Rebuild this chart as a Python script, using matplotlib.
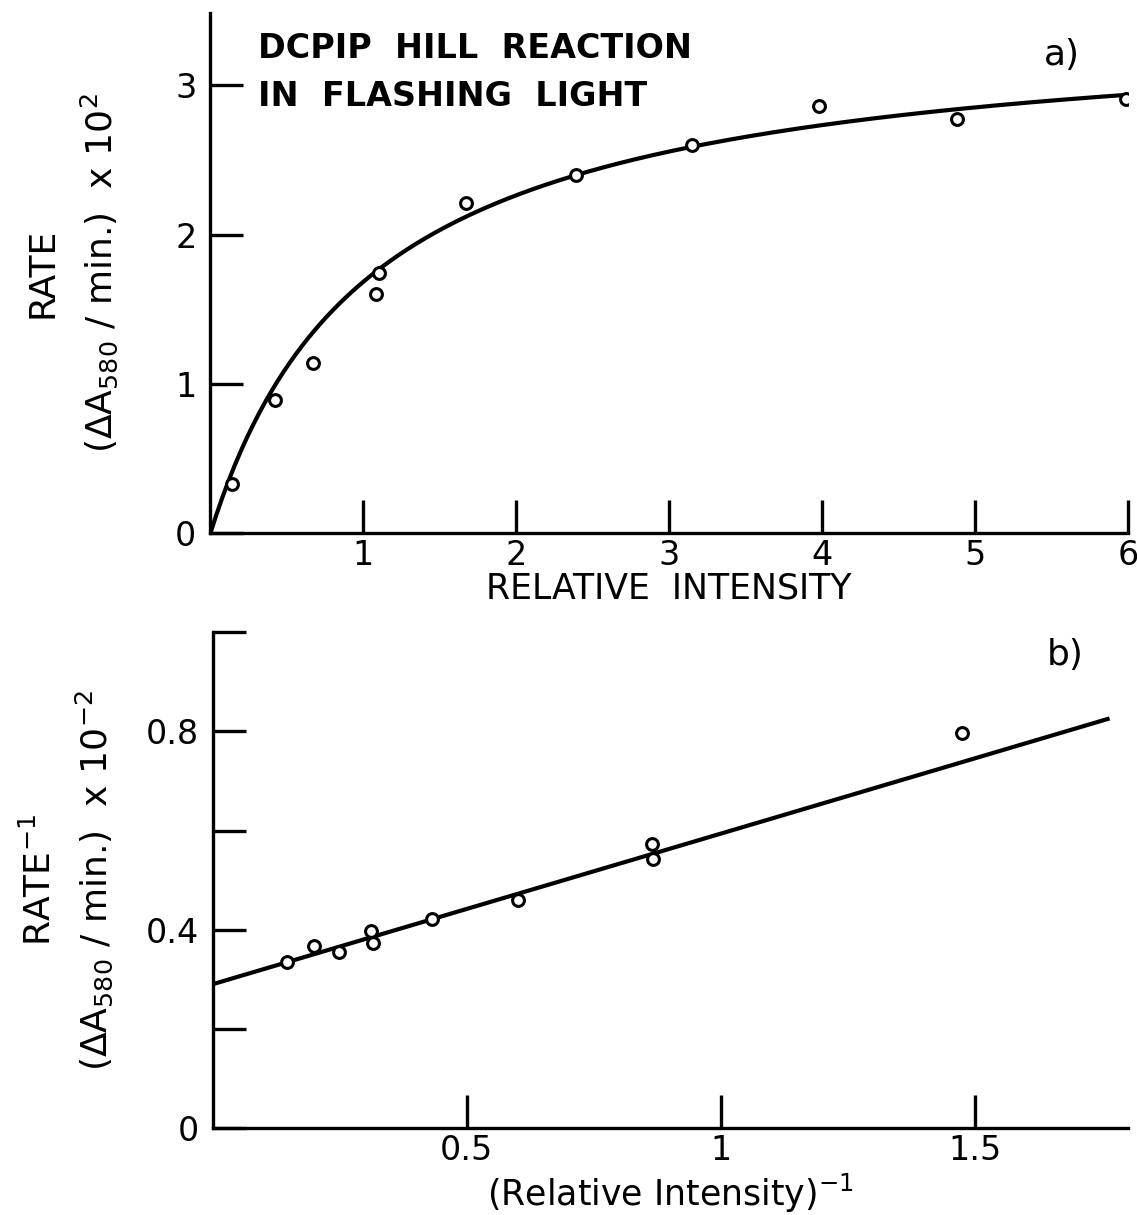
import matplotlib.pyplot as plt
import numpy as np

# panel a) rate vs relative intensity
intensity = [0.14, 0.42, 0.67, 1.08, 1.10, 1.67, 2.39, 3.15, 3.98, 4.88, 5.99]
rate = [0.33, 0.89, 1.14, 1.60, 1.74, 2.21, 2.40, 2.60, 2.86, 2.77, 2.91]

# panel b) double reciprocal
inv_intensity = [0.146, 0.199, 0.249, 0.312, 0.316, 0.432, 0.600, 0.864, 0.866, 1.473]
inv_rate = [0.334, 0.367, 0.355, 0.398, 0.374, 0.421, 0.459, 0.573, 0.542, 0.796]

# fitted line of panel b (intercept, slope) and its x extent
fit_intercept = 0.29
fit_slope = 0.304
fit_xmax = 1.76

plt.rcParams['font.family'] = ['DejaVu Sans']
plt.rcParams['mathtext.default'] = 'regular'

fig = plt.figure(figsize=(11.37, 12.15), dpi=100)

lw_spine = 2.4
tick_kw = dict(direction='in', length=24, width=2.4, labelsize=24, pad=4)

########## panel a ##########
ax1 = fig.add_axes([0.185, 0.561, 0.807, 0.428])
vmax = 1 / fit_intercept
km = fit_slope * vmax
xs = np.linspace(0, 6, 300)
ax1.plot(xs, vmax * xs / (km + xs), color='black', lw=3)
ax1.plot(intensity, rate, 'o', ms=8.5, mfc='white', mec='black', mew=2.2)

ax1.set_xlim(0, 6)
ax1.set_ylim(0, 3.48)
ax1.set_xticks([1, 2, 3, 4, 5, 6])
ax1.set_yticks([0, 1, 2, 3])
ax1.tick_params(**tick_kw)
ax1.tick_params(axis='y', pad=10)
for s in ['top', 'right']:
    ax1.spines[s].set_visible(False)
for s in ['left', 'bottom']:
    ax1.spines[s].set_linewidth(lw_spine)
ax1.set_xlabel('RELATIVE  INTENSITY', fontsize=25, labelpad=0)
ax1.set_ylabel('RATE\n(ΔA$_{580}$ / min.)  x 10$^2$', fontsize=26, labelpad=40,
               linespacing=1.55)
ax1.text(0.31, 3.085, 'DCPIP  HILL  REACTION\nIN  FLASHING  LIGHT', fontsize=24,
         weight='bold', va='center', linespacing=1.55)
ax1.text(5.45, 3.2, 'a)', fontsize=26, va='center')

########## panel b ##########
ax2 = fig.add_axes([0.187, 0.0716, 0.805, 0.408])
xl = np.array([0, fit_xmax])
ax2.plot(xl, fit_intercept + fit_slope * xl, color='black', lw=3)
ax2.plot(inv_intensity, inv_rate, 'o', ms=8.5, mfc='white', mec='black', mew=2.2)

ax2.set_xlim(0, 1.8)
ax2.set_ylim(0, 1.0)
ax2.set_xticks([0.5, 1, 1.5])
ax2.set_xticklabels(['0.5', '1', '1.5'])
ax2.set_yticks([0, 0.2, 0.4, 0.6, 0.8, 1.0])
ax2.set_yticklabels(['0', '', '0.4', '', '0.8', ''])
ax2.tick_params(**tick_kw)
ax2.tick_params(axis='y', pad=10)
for s in ['top', 'right']:
    ax2.spines[s].set_visible(False)
for s in ['left', 'bottom']:
    ax2.spines[s].set_linewidth(lw_spine)
ax2.set_xlabel('(Relative Intensity)$^{-1}$', fontsize=25, labelpad=4)
ax2.set_ylabel('RATE$^{-1}$\n(ΔA$_{580}$ / min.)  x 10$^{-2}$', fontsize=26,
               labelpad=22, linespacing=1.45)
ax2.text(1.64, 0.955, 'b)', fontsize=26, va='center')

fig.savefig('out.png', dpi=100)
